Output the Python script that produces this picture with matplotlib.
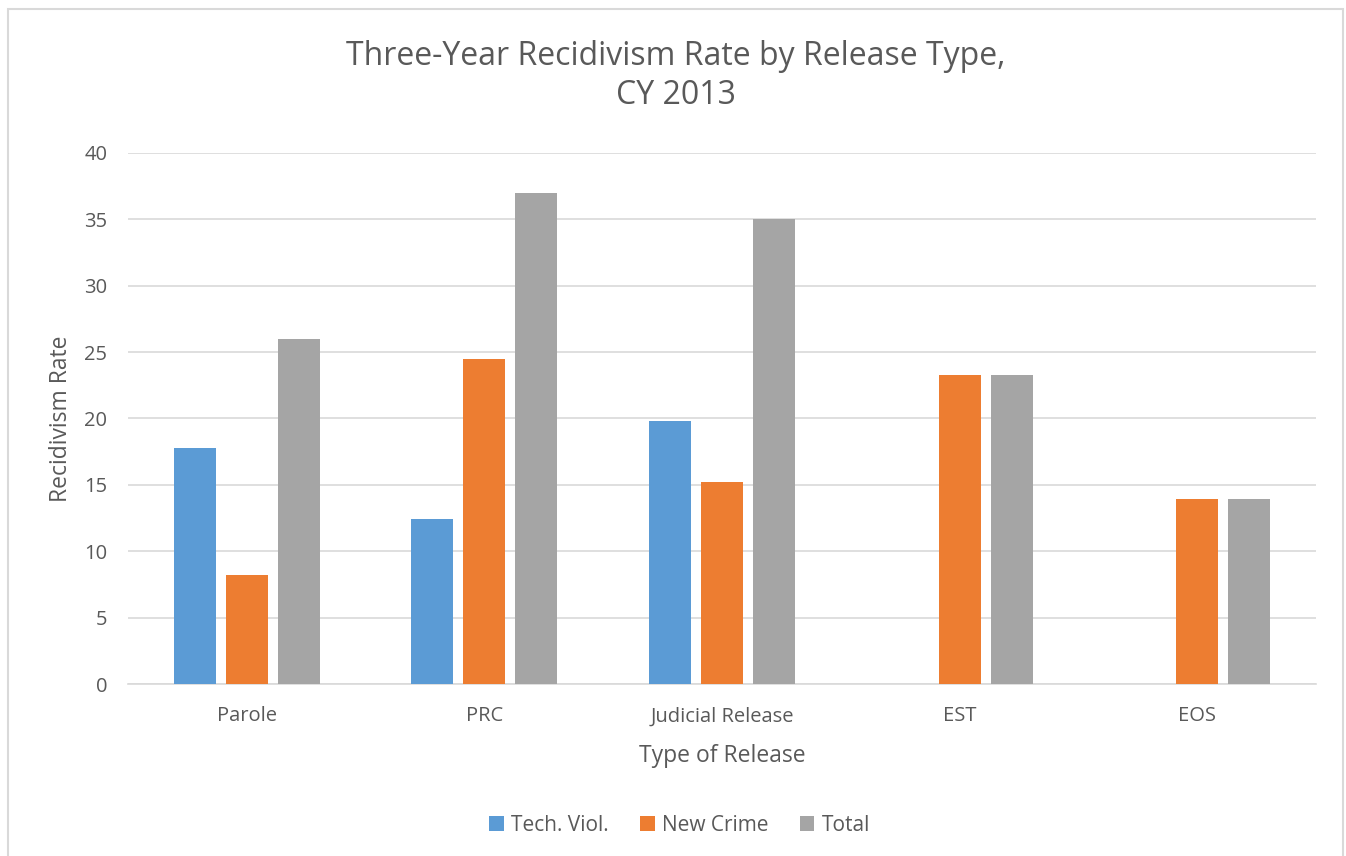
import numpy as np
import matplotlib.pyplot as plt
from matplotlib.patches import Rectangle

plt.rcParams["font.family"] = ["Open Sans", "DejaVu Sans"]

categories = ["Parole", "PRC", "Judicial Release", "EST", "EOS"]
tech_viol = [17.8, 12.4, 19.8, np.nan, np.nan]
new_crime = [8.2, 24.5, 15.2, 23.3, 13.9]
total = [26.0, 37.0, 35.0, 23.3, 13.9]

series = [("Tech. Viol.", tech_viol, "#5B9BD5"),
          ("New Crime", new_crime, "#ED7D31"),
          ("Total", total, "#A5A5A5")]

text_color = "#595959"

fig = plt.figure(figsize=(13.46, 8.56), dpi=100)
ax = fig.add_axes([0.0951, 0.2009, 0.8826, 0.6204])

x = np.arange(len(categories))
width = 0.177
step = 0.219
for i, (name, vals, color) in enumerate(series):
    ax.bar(x + (i - 1) * step, vals, width, color=color, label=name, zorder=3)

ax.set_xlim(-0.5, len(categories) - 0.5)
ax.set_ylim(0, 40)
ax.set_yticks(range(0, 41, 5))
ax.set_xticks(x)
ax.set_xticklabels(categories)
ax.grid(axis="y", color="#D9D9D9", linewidth=1.2, zorder=0)
for s in ["top", "right", "left"]:
    ax.spines[s].set_visible(False)
ax.spines["bottom"].set_color("#D9D9D9")
ax.spines["bottom"].set_linewidth(1.2)
ax.tick_params(axis="both", length=0, labelsize=14.5, colors=text_color)
ax.tick_params(axis="x", pad=16)
ax.tick_params(axis="y", pad=15)

ax.set_xlabel("Type of Release", fontsize=16.5, color=text_color, labelpad=13)
ax.set_ylabel("Recidivism Rate", fontsize=16.5, color=text_color, labelpad=8)

fig.text(0.502, 0.911, "Three-Year Recidivism Rate by Release Type,\nCY 2013",
         ha="center", va="center", fontsize=23, color=text_color, linespacing=1.25)

ax.legend(loc="center", bbox_to_anchor=(0.505, 0.036), bbox_transform=fig.transFigure,
          ncol=3, frameon=False, fontsize=15, handlelength=0.7, handleheight=0.7,
          handletextpad=0.35, columnspacing=1.5, labelcolor=text_color)

fig.patches.append(Rectangle((8 / 1346, -0.01), 1335 / 1346, 1 - 9 / 856 + 0.01,
                             transform=fig.transFigure, fill=False,
                             edgecolor="#D9D9D9", linewidth=1.5))

fig.savefig("out.png", dpi=100)
